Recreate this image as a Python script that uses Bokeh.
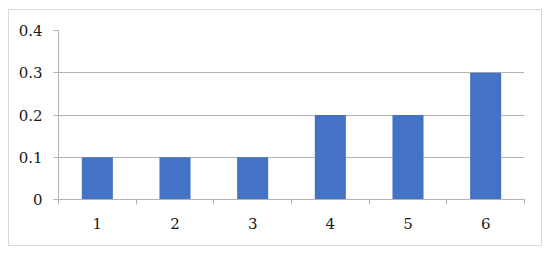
from bokeh.plotting import figure
from bokeh.models import Range1d, FixedTicker, ColumnDataSource
from bokeh.embed import file_html
from bokeh.resources import INLINE

categories = ["1", "2", "3", "4", "5", "6"]
values = [0.1, 0.1, 0.1, 0.2, 0.2, 0.3]
y_ticks = [0, 0.1, 0.2, 0.3, 0.4]
y_labels = ["0", "0.1", "0.2", "0.3", "0.4"]

xs = list(range(1, len(categories) + 1))
src = ColumnDataSource(dict(x=xs, top=values))

p = figure(width=534, height=237, output_backend="svg", toolbar_location=None,
           x_range=Range1d(0.5, len(categories) + 0.5), y_range=Range1d(0, 0.4),
           min_border_left=49, min_border_right=19, min_border_top=20, min_border_bottom=48,
           styles={"border": "1px solid #d9d9d9", "margin": "9px 0 0 8px"})
p.outline_line_color = None
p.vbar(x="x", top="top", width=0.4, source=src, fill_color="#4472C4", line_color=None)

font = "DejaVu Serif"
grid_c = "#b3b3b3"

p.xgrid.visible = False
p.ygrid.grid_line_color = grid_c
p.ygrid.ticker = FixedTicker(ticks=y_ticks)

xa = p.xaxis[0]
xa.ticker = FixedTicker(ticks=xs, minor_ticks=[x - 0.5 for x in xs] + [xs[-1] + 0.5])
xa.major_label_overrides = {x: c for x, c in zip(xs, categories)}
xa.major_tick_out = 0
xa.major_tick_in = 0
xa.minor_tick_out = 5
xa.minor_tick_in = 0
xa.minor_tick_line_color = grid_c
xa.axis_line_color = grid_c
xa.major_label_standoff = 13
xa.major_label_text_font = font
xa.major_label_text_font_size = "15px"
xa.major_label_text_color = "#1a1a1a"

ya = p.yaxis[0]
ya.ticker = FixedTicker(ticks=y_ticks)
ya.major_label_overrides = {t: l for t, l in zip(y_ticks, y_labels)}
ya.major_tick_out = 5
ya.major_tick_in = 0
ya.minor_tick_line_color = None
ya.major_tick_line_color = grid_c
ya.axis_line_color = grid_c
ya.major_label_standoff = 11
ya.major_label_text_font = font
ya.major_label_text_font_size = "15px"
ya.major_label_text_color = "#1a1a1a"

open("out.html", "w").write(file_html(p, INLINE))
